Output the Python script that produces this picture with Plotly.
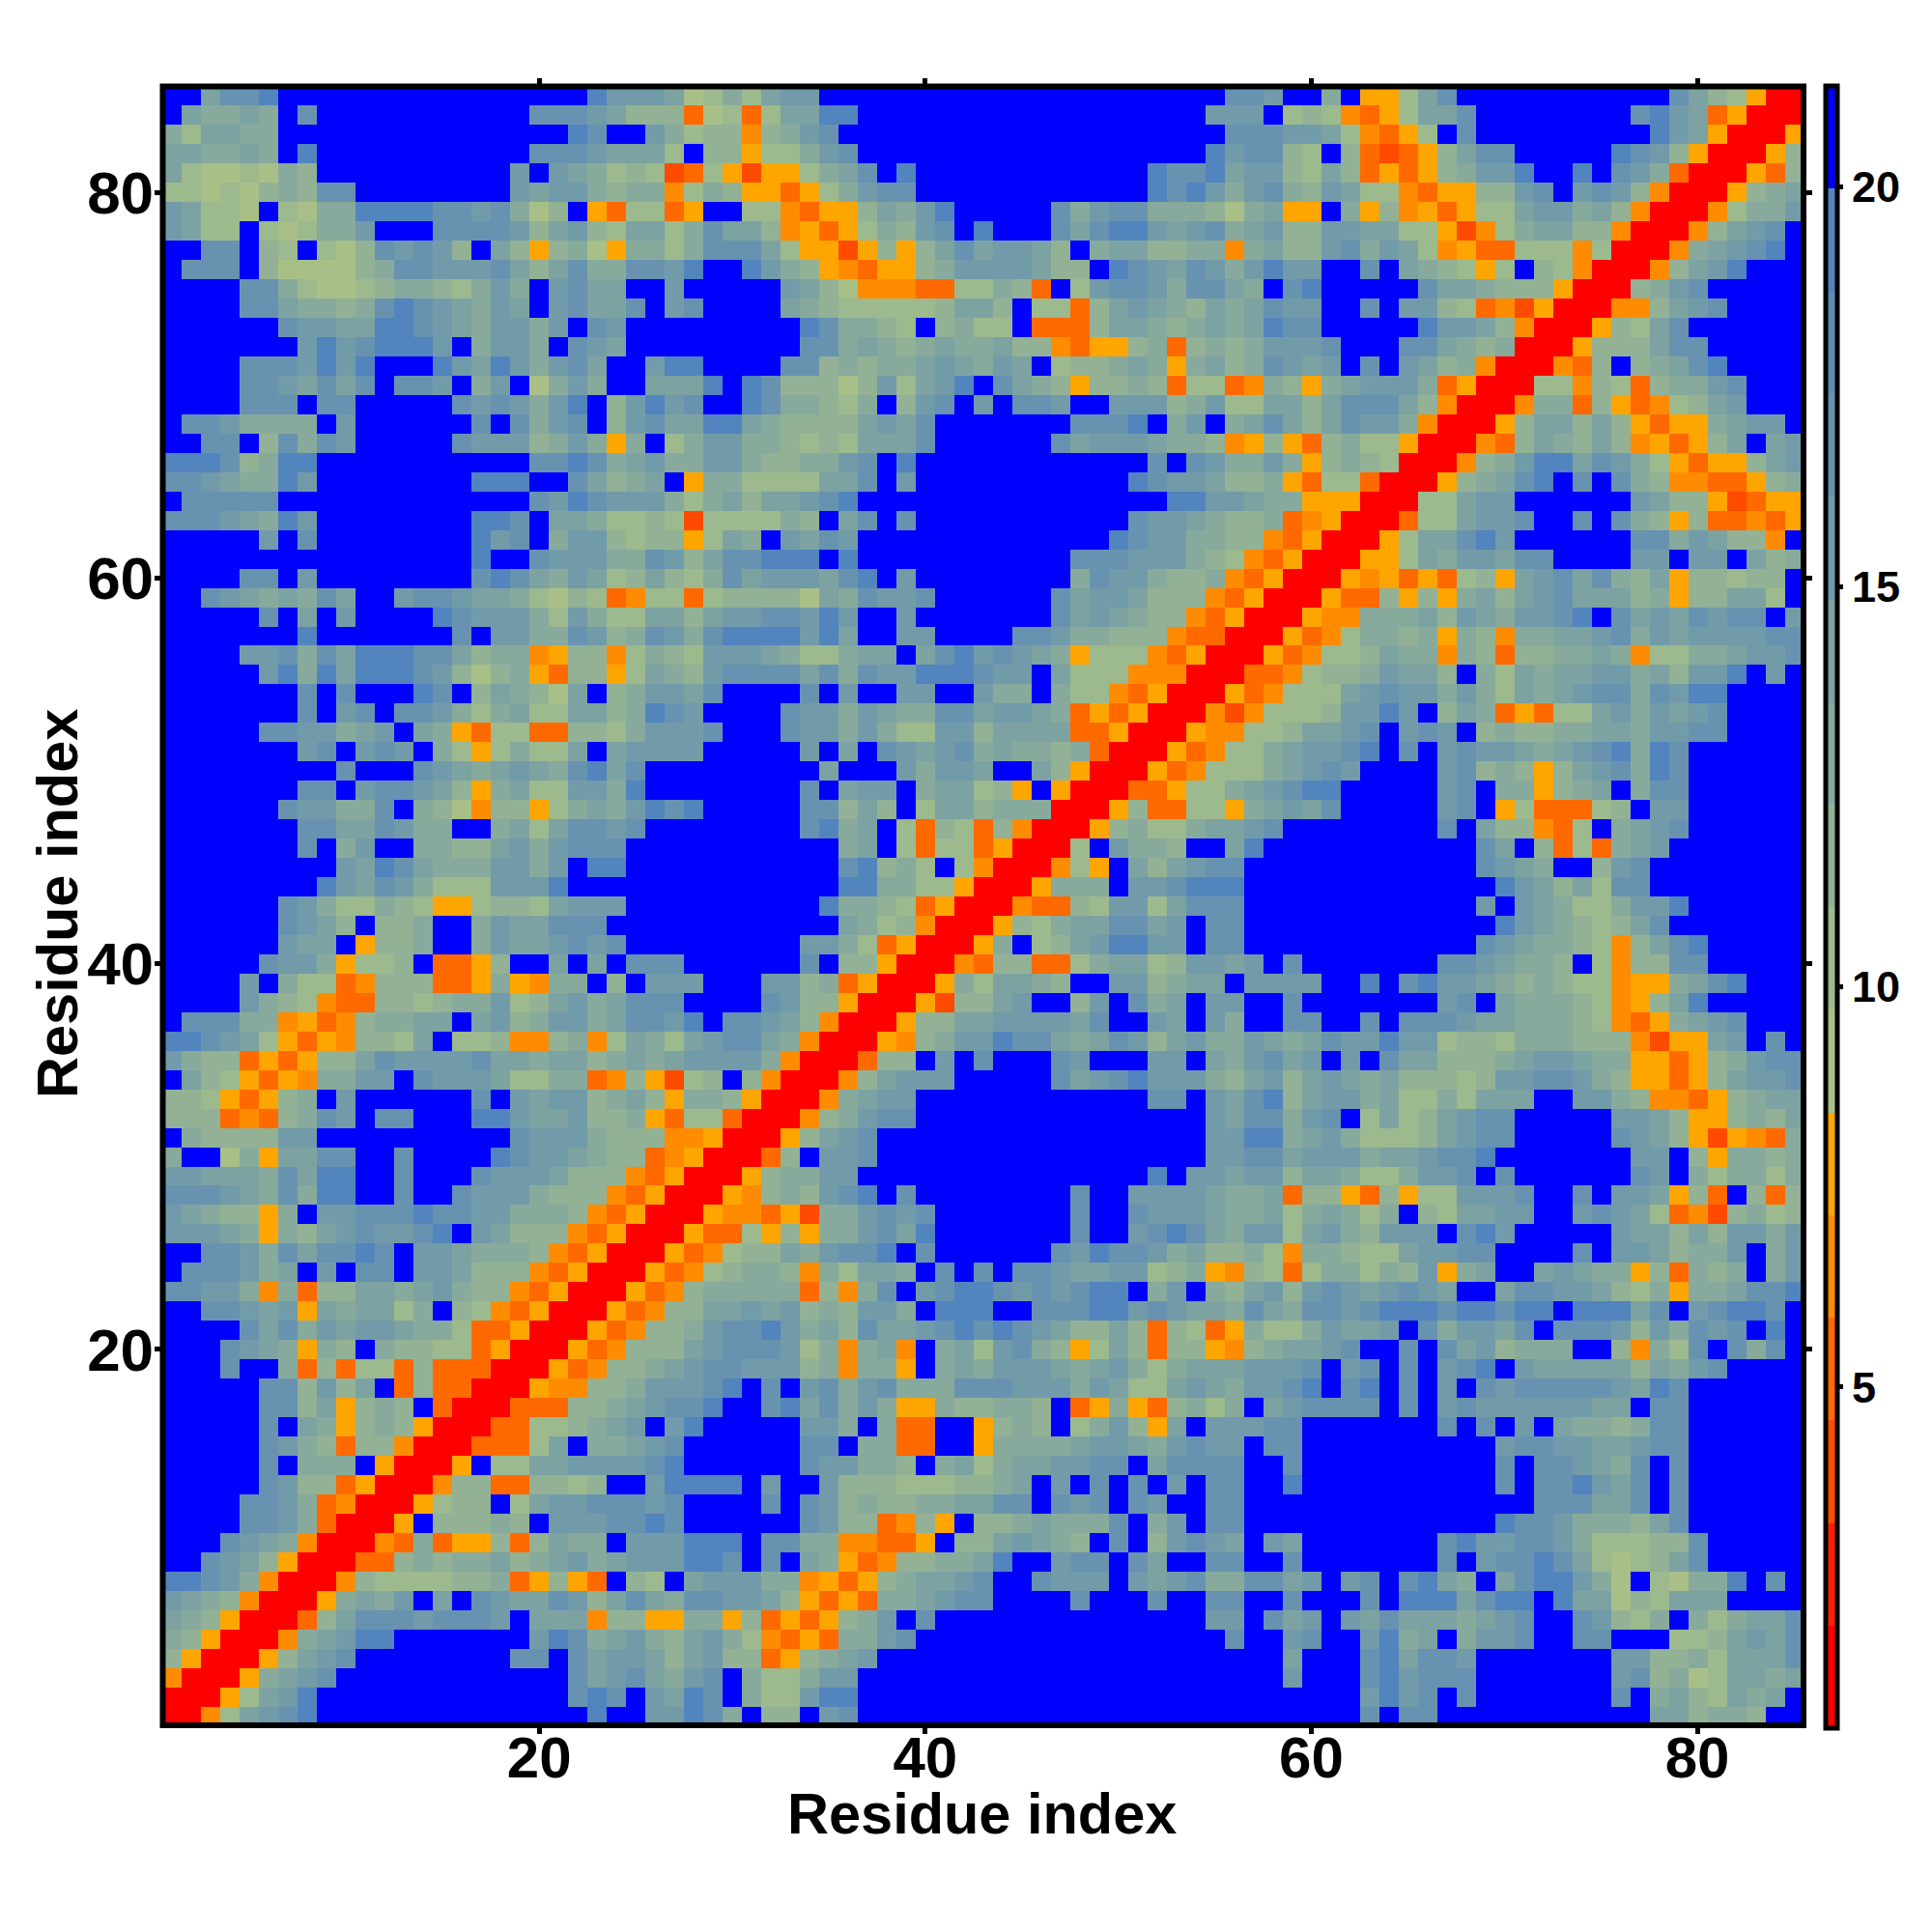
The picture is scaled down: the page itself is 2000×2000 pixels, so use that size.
import plotly.graph_objects as go

# Each row is one line of the map, top (residue 85) to bottom (residue 1).
# Each character is the colour-band index of a cell as read (0 = closest, f = farthest).
band_rows = """
ffbddeffff ffffffffff ffecccb78a 8bccffffff ffffffffff fffffddcff af558bdfff ffffffffdb 98500
fbaabafdff fffffffffd ddcb999378 38bbeeffff ffffffffff ffffcccf89 84358bbdff ffffffdecb 35000
a8bbaaffff ffffffffff fedffca899 49acdfffff ffffffffff fffffdddcc b84358fdff fffffffecb 50005
bbaabafeff fffffffffd ddcbbb8f99 588acdffff ffffffffff ffffecdd98 f932359bdd fffffedc95 00059
b87787a9ff ffffffffcf cba8982385 2558abdfef ffffffffff feddebcc98 b935359acc effefdca30 00539
887879a9dd ffffffffcb cca9aa48a9 55358acddf ffffffffff fedecacda9 cb88435599 cdfcdc9400 059ab
cb887f87aa eeeeddcda7 9f538835ff 8843559bac efffffdacd daaa97ab55 fa59453588 bccab94000 48aac
cb88f878aa cfffddddc9 bc98bb8adb b945358a9c dfefffdbde ecbcdabc99 ccbb885248 abb9940004 9bcdf
ffddf98f87 9dcdc9fb95 9a75aa8add db85525959 bdbccb9fab b99aa4ab99 cdacb84533 888480004a bcdef
fdddf97777 9addcccdb9 bdaaddceff eca9543559 accccb99fe dcbdcacecc ffdfba9858 f98400049b cefff
ffffdda877 89aa98acaf cdbbffcfff ffcb974443 388a93f8cd dcaddbafde fffffdbba9 9950009acd fffff
ffffddbaa9 adedcbacbf cdbbdfcdff ffba988888 9bb9f8839b cba9babdcc ffdfcc9834 25000449bc dffff
ffffffdccb beedcbacca cfdcffffff fffedaa98f 9a88f3339b ba9ababedd fffffeccb9 4000598bdf fffff
fffffffcec deeecfacca fdcbffffff fffddaba9a baab994355 9a39a9accc dfffddba9a 0005999bdd fffff
ffffdddcec efffecbeca cdbffceeff ffdd9a9aab cbacbf899a ba5ab9adcb cfdfcb9a40 00439f9abd effff
ffffddcbdb dfddcfacf7 acaffbbbef ed99979c8b cefdba9599 a938834a95 abccca3500 08849839aa cdfff
ffffdddfdd fffffdcdca cef9cecdff edaa98af9c dfcfddcffc cc9ac88bb9 bdddb94000 4aa3953489 bcfff
fddcaaaafc ffffffdfda cdf9cdbbee ba9999bcbd fffffffddd efacfabdb9 bdcca40005 9bb9b95355 abccf
ffddf9dadc fffffdccc9 aca5af8acc aa9898bbbd ffffffdbcc cbaa945953 9a88500043 9ba9b94535 9bfbc
eeed9aeeff fffffffffd dedabcaacc a99aacdfef ffffffffff fdfdcaaca5 9a9800049a ceebdca853 559bc
ddcbaaecff ffffffeeef fdb9abf5aa 8888bbdfcf ffffffffff edccb99a53 88300059ab defdfda944 3359a
fdddddffff fffffffffd cedccca8ab 9bbcdeffff ffffffffff ffeeccbaa5 5500088bcc ffffffcb99 52355
dddcbaecff ffffffeedf bba8898288 88a9fbdfdf ffffffffff dccba99a34 5000388bcc dffdfda959 33435
fffffcfdff ffffffecdf acc989958b afcbdcffff fffffffffe dccaa99435 00058bbdec ffffffddac b994f
ffffffffff ffffffeffd cccaadc9bd deeefeffff fffffffddd ccca984350 00558baccb ddffffccfc cfb9a
ffffddfcff ffffffdedb acb89b98ad bcccbdefcf fffffffadc ca99a43500 0545353895 bcdbda9b59 9899f
ffdcbabadb ffcddcbba8 7983488389 9997badccd ffffffdbcc b999435000 5339595ab9 bcdbbb9a59 9bb8f
fffffdfbfc ffffedccca 8ca88bb9bc cddcecffcf ffffffdbcb a994350005 44aaab9cba ccdefdbcbd cddfc
fffffffeff fffffdfcca adc9adcade eeecebffcc ffffddcaa9 9943300053 48aa9a5a94 aabbcdacbc cccdd
ffffccdadb eeeddb9aa4 59948a98cc cba88abbfb decdcba588 8435000534 889baa4a93 99aaba488a abccd
fffffceaeb eeedc979a5 39958ba9cd dddbdadcce eedccfb888 4440003348 99acbb9fa8 babbccab9c cefcf
fffffffdfd fffedf9ba9 7bf9accbdf fffdfcffcc ffcaafa884 3500053488 8bcdccaca8 babcddadce effff
fffffffdfc dfddca8ab8 8bb9aedcff ffdccacbaa ddbccba353 5000424888 9ccecf9ba3 5388bcacbc dffff
fffffddcca bcfba53883 3998acccdf ffdccaca88 cc9bbbb335 000544889b bcdfcdcf9a 99aabbaccd dffff
fffffffcdf cdcfa858a8 8bfbccccff fffcfbfdcb cdabaa9a30 0053488abc cdefdfcdcc babcdeaedf fffff
fffffffffd fffdcbabcb adebdfffff ffffbfffca ccbffb9500 0534888abc dcffffcd9a 959bcdaedf fffff
fffffffddf cddcb95ab8 8ccaefffff fffdfbccfa bb895f5000 33588abcde efffffcdfa a59abfaddf fffff
ffffffdcca adfa974995 8abacedeff fffdd9b9f8 bb9aaa0005 933885abcb dfffffcdf5 833389fccf fffff
fffffffddb bdcaaffab8 bddcdfffff fffdeabf83 9839400059 a88abbcdff ffffffdfb9 9438fabcdf fffff
fffffffdfa cffaa99bca cdddffffff fffffabf83 88350008fc aa9ffbefff ffffffffdb f9383abcff fffff
fffffffffc bedbaaacca cfeeffffff fffffde9a8 f84000485f b9bcddffff ffffffffdc baff9cdfff fffff
ffffffffec bdca888ccc efffffffff fffffeeaa8 850005aaaf ccdeeeffff fffffffffe cb9b8ddfff fffff
ffffffdca8 8a98558998 bcccffffff ffffeaa983 500043398c c8bdddffff ffffffffcf cba88accef fffff
ffffffdcb9 f99affacbb dddfffffff fffffba894 000598abbd dbcfddffff fffffffffe cba989bdff fffff
ffffffcbbf 599affacbb cdcdffffff fffcca8350 005af89bce eccfddffff ffffffffdc baa9849bde fffff
fffffdcca5 889f3359ff bfbfdddfff fffdf99500 04399338ab b89ccbcfdf ffffffddcb aa9f8499dd fffff
ffffcfa883 4999335a54 aaf9fcccff fcc9a35000 5a8bba9ffc c9abbfcccc ffefdeccba 9a988455ab defff
ffffca9843 39989aac89 bcabdddfff fdc9950005 299bcff9cf dabfccffdf ffffffcdfb aaa98459be fffff
fdddaa4534 9aabbfbc9a ccabddcefd dcb9400059 9bbccccbdf fcbfcaffdd ffdfdddcbb aaa98435ab cdfff
eedcb85354 998bf88944 9a48ba8bcd dba4000549 acceddbabd c9bcaacbab dccecc8998 aaa9994255 bcfdf
ca99353599 bdccccdbba bb9ababccc ca4000399f cfdfffdcff fccfbacdbc fcfdbb999a bccbaa5535 9acdd
fb985354aa ccfdcccb88 aa3495289f 9400049bcc cfffffdbcd eccca9bc9b cbab99989c cddca95535 9bccd
9985359afc ffffffdfcb cc9ab95aa9 50004abccf ffffffffff fddfcbde9b ccab88a8bb bffcca9443 59abb
9993439adc fddfffeecb bc99a53883 00049acddf ffffffffff ffffcbddac df8b89bcdd fffffccb95 59a9b
fa9999ccff ffffffffdc cca9994450 0059bcdfff ffffffffff ffffcceeab ca8889bcdd fffffdcb95 2543a
aff7a5bbdd ffdffffedc cba9934500 039fccdfff ffffffffff ffffccddbc ccabbcddef ffffffccf9 5aa9a
ccbbbadbee ffdfffdccc b999435000 59aaccffff ffffffffff fefccbcc9b ba88accdfd ffffffdcfa 8aa8a
dddcbadaee ffdffdccca 9994350005 49a9cdefdf fffffffdff ccccbaab39 9539588ccc dffdfccb59 3f939
cba995afcc dddeddccaa a943500054 4352aacdcd fffffffdff dcccbaab8a ba8af98bbc cffcdcb834 29a89
cccba5a9bc dccdefcb99 9435000533 8595aacdbe fffffffdff cdedbacc8b ca9cccfdec fffffcbb9b 9ccac
ffddcadbdd edfccbaaa9 4350005348 99bacddefd ffffffdced dcab99a84a a988bccddf fffdfccb9a acfac
fdddcabfcf ddfccb9994 3500053489 aa94a8bbaf dfdfddcbbc c89a549838 aa8a9c5abf fbcbaa593a 9afac
ddcca4a399 bbabca9943 50005349aa aaa394adfc deedcdcdee facfa9bc9c dcbcdcbffb ddccb98a5a abdde
ffddcbc5ba bb8af98435 00053499bb cbc9a9ccaf eeeffdddee cdcbbadbad dcdeeedeed eefeeebdfc deedf
ffffdbdacb ccbaa83350 0053499acd decab9dbbc dededcb99b 939835a88a cbbcfdaccb dfdddc9cad cdfef
fffdcba5a9 fa99883500 0534999bcd ddc8a4ab4f ab8cda958b 9399549abb cdffdfdbc9 aaaff94a8d fdadf
fffdffa393 8839333000 53499abcdd ccc9a4aa5f abacccbabc a8abbbcccd fcdfdfcdef cbbbbb9bac dffff
fffffdd9c9 bf39330005 4499acccde fdfcdacdaa adddcccacb 88bcbaccde fdefdfcfdc dddddcbedf fffff
fffffdd9b5 9a9f300033 399abcddef fdebdaca55 a99aa9f35a 539a8afbcd dddfdfcdcc ccccbbfddf fffff
fffffdfba5 9a95000338 89abcfceff fffccafa33 ff59a9f8ac 95bfcccddf ffffffdfdf cfbaa9addf fffff
fffffdca93 9940003338 bfaabcdfff fffddfaa33 ff5aaaabcc bacdccfddf fffffffffc ddccbbcddf fffff
fffffdfaaa f50005f88b bccccdefff fffdccaa9f ab8abbccdd fbddddffdf fffffffffd fddcbadfdf fffff
fffffdc993 5000499339 989ffceeee fcffc99988 899abfcfdf dfcfddffef fffffffffd fddecbdfdf fffff
ffffddca34 0005899f8b ccdddcdfff fdfdc9a99a abbddfdcdf dcffddffff ffffffffff fdddbbdfdf fffff
ffffddca30 005f999a9f cccddedfff fffdc99349 5f99abaaad facfddffff fffffffffe ddcaaa9bdf fffff
fffdcba400 043a355939 baafccceee fddaa44335 f99bcba9fd f9cdcbfcbf ffffffdecc ddca88899d fffff
ffdcb95000 339a9aab9a bcabccceed fdfba53499 aabeffcddf dbffddffdf ffffffdfcd dedb8789bd fffff
eedca40004 9888899a35 953f98fbcc caa45359ab bcdffdcccf cbcdaaddbc fcdfdebafb deeca7f87a aefdf
cba940005a bacfbfdcbb dc9bdbaddc cb95353aab cddffffdff fdffddffdf ffdfeeebde efebb798bb bffff
ba9500039b dddcdddcfb bb49955aa5 935359acfd ffffffffff ffffccfdbc fcbdbbbabc dffdc98afa 8abbd
a950004abc eefffffffc edabca9bca 84353aacdf ffffffffff fffffdffcd ffceabfacc dffddfff88 9bcbd
9500059bcd ffffffffdd fdbccb9bc9 9359abcfff ffffffffff ffffffffbf ffdebddcff fffffcc99a 8bbbd
40005abcdf ffffffffff fdbcdbacdf a88accffff ffffffffff ffffffffcf ffdecdddff fffffcd9a7 8bbab
00058bceff ffffffffff fdedfcbedf a88ceeffff ffffffffff ffffffffff ffcecdfdff fffffdfab9 8babf
0048bcdeff ffffffffff ffeffcceda f99fcdffff ffffffffff ffffffffff ffdfddffff fffffffbb9 aa9ff
"""

# My readings of the muted bands ran slightly too blue; this corrects them.
reading_fix = str.maketrans({"7": "6", "8": "7", "9": "8", "a": "9", "b": "a", "c": "b", "d": "c"})

band_colors = ["#ff0000", "#ff2000", "#ff4b00", "#ff6900", "#ff8c00", "#ffa500",
               "#a8c087", "#9db98e", "#93b195", "#88aa9c", "#7da2a2", "#729ba9",
               "#6893b0", "#5d8cb7", "#5284be", "#0000ff"]
value_min = 0.73
band_width = 1.2826
axis_ticks = [20, 40, 60, 80]
bar_ticks = [5, 10, 15, 20]
residues = list(range(1, 86))
axis_label = "Residue index"

rows = [line.replace(" ", "").translate(reading_fix) for line in band_rows.strip().splitlines()]
z = [[value_min + (int(c, 16) + 0.5) * band_width for c in row] for row in reversed(rows)]

n = len(band_colors)
scale = []
for i, col in enumerate(band_colors):
    scale.append([i / n, col])
    scale.append([(i + 1) / n, col])

W = H = 2000
font = "Liberation Sans"

fig = go.Figure(go.Heatmap(
    x=residues, y=residues, z=z,
    colorscale=scale, zmin=value_min, zmax=value_min + n * band_width,
    xgap=0, ygap=0,
    colorbar=dict(
        x=1889.5 / W, xanchor="left", xpad=0, ypad=0,
        y=1 - 89.5 / H, yanchor="top", len=1700, lenmode="pixels",
        thickness=12, thicknessmode="pixels",
        outlinecolor="black", outlinewidth=5,
        tickmode="array", tickvals=bar_ticks, ticktext=[str(t) for t in bar_ticks],
        ticks="outside", ticklen=4, tickwidth=5, tickcolor="black",
        tickfont=dict(family=font, size=45, color="black", weight="bold"),
    ),
))

axis_common = dict(
    range=[0.5, 85.5], tickmode="array", tickvals=axis_ticks,
    ticktext=[str(t) for t in axis_ticks],
    ticks="outside", ticklen=8, tickwidth=5, tickcolor="black",
    showline=False, mirror="allticks",
    showgrid=False, zeroline=False,
)

fig.update_layout(
    width=W, height=H, margin=dict(l=0, r=0, t=0, b=0),
    paper_bgcolor="white", plot_bgcolor="white",
    xaxis=dict(domain=[168.5 / W, 1867 / W], ticklabelstandoff=-27,
               tickfont=dict(family=font, size=60, color="black", weight="bold"),
               **axis_common),
    yaxis=dict(domain=[1 - 1786 / H, 1 - 89.5 / H], ticklabelstandoff=-12,
               tickfont=dict(family=font, size=62, color="black", weight="bold"),
               **axis_common),
)
fig.add_shape(type="rect", xref="x domain", yref="y domain", x0=0, x1=1, y0=0, y1=1,
              line=dict(color="black", width=6), fillcolor="rgba(0,0,0,0)", layer="above")
title_font = dict(family=font, size=59.5, color="black", weight="bold")
fig.add_annotation(text=axis_label, xref="paper", yref="paper", showarrow=False,
                   x=1017 / W, y=1 - 1877 / H, xanchor="center", yanchor="middle", font=title_font)
fig.add_annotation(text=axis_label, xref="paper", yref="paper", showarrow=False, textangle=-90,
                   x=59 / W, y=1 - 936 / H, xanchor="center", yanchor="middle", font=title_font)

fig.write_html("out.html", post_script="document.body.style.margin='0';",
               config={"displayModeBar": False})
